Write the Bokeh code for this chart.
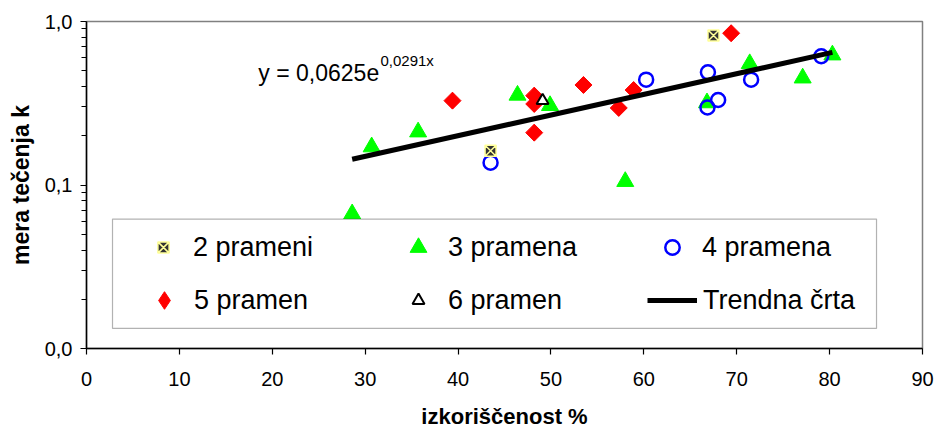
from bokeh.plotting import figure
from bokeh.models import Range1d, FixedTicker, Legend, LegendItem, BoxAnnotation, Label
from bokeh.embed import file_html
from bokeh.resources import INLINE

# ---- data ----
p2_x = [43.5, 67.5]
p2_y = [0.162, 0.821]

p3_x = [28.6, 30.7, 35.7, 46.4, 49.9, 58.0, 66.8, 71.4, 77.1, 80.3]
p3_y = [0.0666, 0.171, 0.211, 0.354, 0.306, 0.105, 0.318, 0.552, 0.451, 0.624]

p4_x = [43.5, 60.25, 66.9, 68.0, 66.85, 71.55, 79.1]
p4_y = [0.137, 0.441, 0.489, 0.331, 0.298, 0.441, 0.613]

p5_x = [39.4, 48.2, 48.2, 48.2, 53.5, 57.3, 58.9, 69.4]
p5_y = [0.328, 0.352, 0.313, 0.209, 0.409, 0.296, 0.381, 0.848]

p6_x = [49.1]
p6_y = [0.328]

trend_x = [28.6, 80.3]
trend_y = [0.1436, 0.647]

series_labels = ["2 prameni", "3 pramena", "4 pramena",
                 "5 pramen", "6 pramen", "Trendna črta"]

x_ticks = [0, 10, 20, 30, 40, 50, 60, 70, 80, 90]
y_ticks = [0.01, 0.1, 1.0]
y_tick_labels = ["0,0", "0,1", "1,0"]
y_minor = [0.02, 0.03, 0.04, 0.05, 0.06, 0.07, 0.08, 0.09,
           0.2, 0.3, 0.4, 0.5, 0.6, 0.7, 0.8, 0.9]

FONT = "Liberation Sans"

p = figure(width=935, height=432, output_backend="svg", toolbar_location=None,
           x_range=Range1d(0, 90), y_range=Range1d(0.01, 1.0), y_axis_type="log",
           min_border_left=86, min_border_right=13, min_border_top=21,
           min_border_bottom=84)
p.xgrid.visible = False
p.ygrid.visible = False
p.outline_line_color = "#808080"
p.outline_line_width = 1.5
p.background_fill_color = "white"
p.border_fill_color = "white"

# axes
p.xaxis.ticker = FixedTicker(ticks=x_ticks)
p.yaxis.ticker = FixedTicker(ticks=y_ticks, minor_ticks=y_minor)
p.yaxis.major_label_overrides = {t: l for t, l in zip(y_ticks, y_tick_labels)}
for ax in (p.xaxis[0], p.yaxis[0]):
    ax.axis_line_color = "black"
    ax.axis_line_width = 1.5
    ax.major_tick_line_color = "black"
    ax.major_tick_line_width = 1.2
    ax.major_tick_out = 6
    ax.major_tick_in = 0
    ax.minor_tick_line_color = "black"
    ax.minor_tick_line_width = 1.2
    ax.minor_tick_out = 5
    ax.minor_tick_in = 0
    ax.major_label_text_font = FONT
    ax.major_label_text_font_size = "20px"
    ax.major_label_text_color = "black"
    ax.axis_label_text_font = FONT
    ax.axis_label_text_font_size = "22px"
    ax.axis_label_text_font_style = "bold"
    ax.axis_label_text_color = "black"

p.xaxis.axis_label = "izkoriščenost %"
p.xaxis.major_label_standoff = 17
p.xaxis.axis_label_standoff = 15
p.yaxis.axis_label = "mera tečenja k"
p.yaxis.axis_label_text_font_size = "23px"
p.yaxis.major_label_standoff = 8
p.yaxis.axis_label_standoff = 8

# glyphs
r3 = p.scatter(p3_x, p3_y, marker="triangle", size=17,
               fill_color="#00FF00", line_color="#00FF00")
# diamond key glyph for the legend (legend markers are drawn unrotated);
# it lies completely under the rotated squares below
r5_key = p.scatter(p5_x, p5_y, marker="diamond", size=16,
                   fill_color="#FF0000", line_color="#FF0000")
r5 = p.scatter(p5_x, p5_y, marker="square", size=12, angle=0.785398,
               fill_color="#FF0000", line_color="#FF0000")
r4 = p.scatter(p4_x, p4_y, marker="circle", size=14, fill_color=None,
               line_color="#0000FF", line_width=2.5)
r2 = p.scatter(p2_x, p2_y, marker="square_x", size=11, fill_color="#333333",
               line_color="#FFFF99", line_width=1.5)
r6 = p.scatter(p6_x, p6_y, marker="triangle", size=12, fill_color="white",
               line_color="black", line_width=2)
rt = p.line(trend_x, trend_y, line_color="black", line_width=5)

# legend frame
box = BoxAnnotation(left=2.8, right=85.05, bottom=0.01327, top=0.0619,
                    fill_color="white", fill_alpha=1.0,
                    line_color="black", line_width=1.2)
p.add_layout(box)

# one legend entry per slot so every key has its own marker size
# (renderer, glyph width -> marker size = 0.4*width, x offset, standoff, row bottom)
slots = [
    (r2, 28, 63, 16, 76),
    (r3, 42, 311, 9, 76),
    (r4, 36, 568, 12, 76),
    (r5_key, 44, 56, 8, 23),
    (r6, 30, 317, 15, 23),
    (rt, 50, 561, 6, 23),
]
for label, (rend, gw, lx, so, ly) in zip(series_labels, slots):
    leg = Legend(items=[LegendItem(label=label, renderers=[rend])],
                 location=(lx, ly), orientation="horizontal",
                 glyph_width=gw, glyph_height=50, label_standoff=so,
                 label_width=100, spacing=0, padding=0, margin=0,
                 border_line_color=None, background_fill_alpha=0,
                 label_text_font=FONT, label_text_font_size="27px",
                 label_text_color="black")
    p.add_layout(leg)

# trend equation
p.add_layout(Label(x=18.5, y=0.4865, text="y = 0,0625e", text_font=FONT,
                   text_font_size="23px", text_baseline="alphabetic",
                   text_color="black"))
p.add_layout(Label(x=31.65, y=0.5765, text="0,0291x", text_font=FONT,
                   text_font_size="15px", text_baseline="alphabetic",
                   text_color="black"))

open("out.html", "w").write(file_html(p, INLINE))
